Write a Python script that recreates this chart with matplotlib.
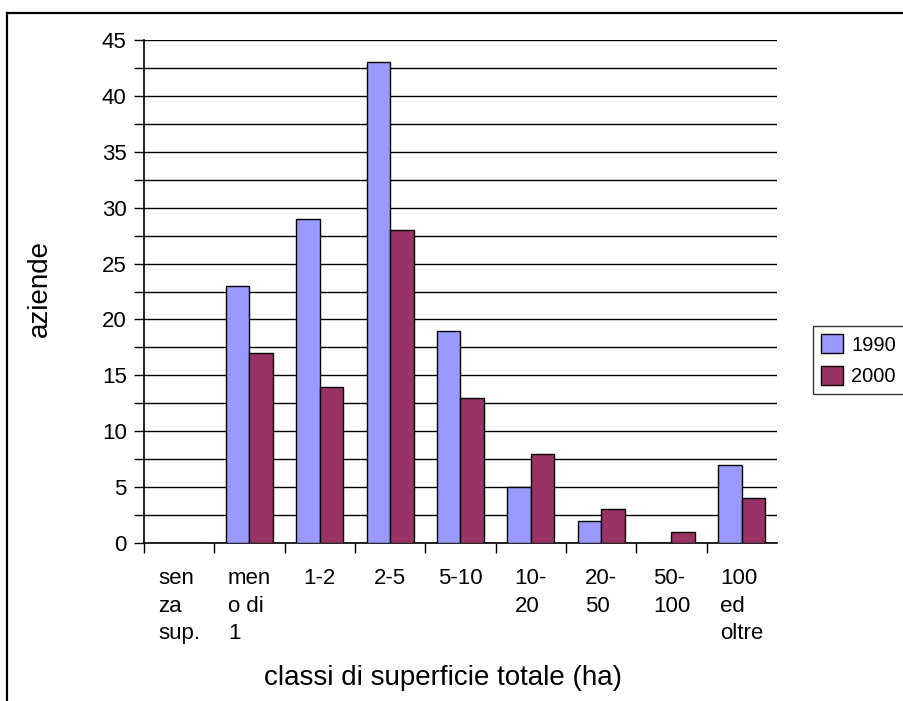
import numpy as np
import matplotlib.pyplot as plt
from matplotlib.lines import Line2D

plt.rcParams['font.family'] = ['Liberation Sans', 'DejaVu Sans']

classi = ['sen\nza\nsup.', 'men\no di\n1', '1-2', '2-5', '5-10',
          '10-\n20', '20-\n50', '50-\n100', '100\ned\noltre']
aziende1990 = [0, 23, 29, 43, 19, 5, 2, 0, 7]
aziende2000 = [0, 17, 14, 28, 13, 8, 3, 1, 4]
anni = ['1990', '2000']

W, H = 904, 701
fig = plt.figure(figsize=(W / 100, H / 100), dpi=100)
ax = fig.add_axes([144 / W, 1 - 543 / H, (777 - 144) / W, (543 - 40) / H])

x = np.arange(len(classi))
bw = 1 / 3
ax.bar(x - bw / 2, aziende1990, bw, color='#9999FF', edgecolor='black', linewidth=1, label=anni[0], zorder=3)
ax.bar(x + bw / 2, aziende2000, bw, color='#993366', edgecolor='black', linewidth=1, label=anni[1], zorder=3)

ax.set_xlim(-0.5, len(classi) - 0.5)
ax.set_ylim(0, 45)

# y ticks every 2.5, labels only on multiples of 5
yt = np.arange(0, 45.1, 2.5)
ax.set_yticks(yt)
ax.set_yticklabels([f'{int(v)}' if v % 5 == 0 else '' for v in yt], fontsize=16)
ax.tick_params(axis='y', length=7.5, width=1, pad=5)
ax.grid(axis='y', color='black', linewidth=1, zorder=0)

# tick marks on category boundaries, labels centred on each category
ax.set_xticks(np.arange(-0.5, len(classi) - 0.5, 1))
ax.set_xticklabels([])
ax.tick_params(axis='x', length=7.5, width=1)
ax.set_xticks(x, minor=True)
ax.set_xticklabels(classi, minor=True, fontsize=16, ha='center', va='top',
                   multialignment='left', linespacing=1.42)
ax.tick_params(axis='x', which='minor', length=0, pad=18)

for s in ['top', 'right']:
    ax.spines[s].set_visible(False)
for s in ['left', 'bottom']:
    ax.spines[s].set_linewidth(1.2)

fig.text(40 / W, 1 - 289 / H, 'aziende', rotation=90, ha='center', va='center', fontsize=20)
fig.text(443 / W, 1 - 678 / H, 'classi di superficie totale (ha)', ha='center', va='center', fontsize=20)

leg = ax.legend(loc='upper left', bbox_to_anchor=(813 / W, 1 - 326 / H), bbox_transform=fig.transFigure,
                frameon=True, fancybox=False, fontsize=14.5, handlelength=1.1, handleheight=1.1,
                borderpad=0.4, labelspacing=0.55, handletextpad=0.4, borderaxespad=0)
leg.get_frame().set_edgecolor('black')
leg.get_frame().set_linewidth(1)

# outer frame
fig.add_artist(Line2D([7 / W, 1], [1 - 13 / H, 1 - 13 / H], color='black', linewidth=1.6, transform=fig.transFigure))
fig.add_artist(Line2D([7 / W, 7 / W], [0, 1 - 13 / H], color='black', linewidth=1.6, transform=fig.transFigure))

fig.savefig('out.png', dpi=100)
